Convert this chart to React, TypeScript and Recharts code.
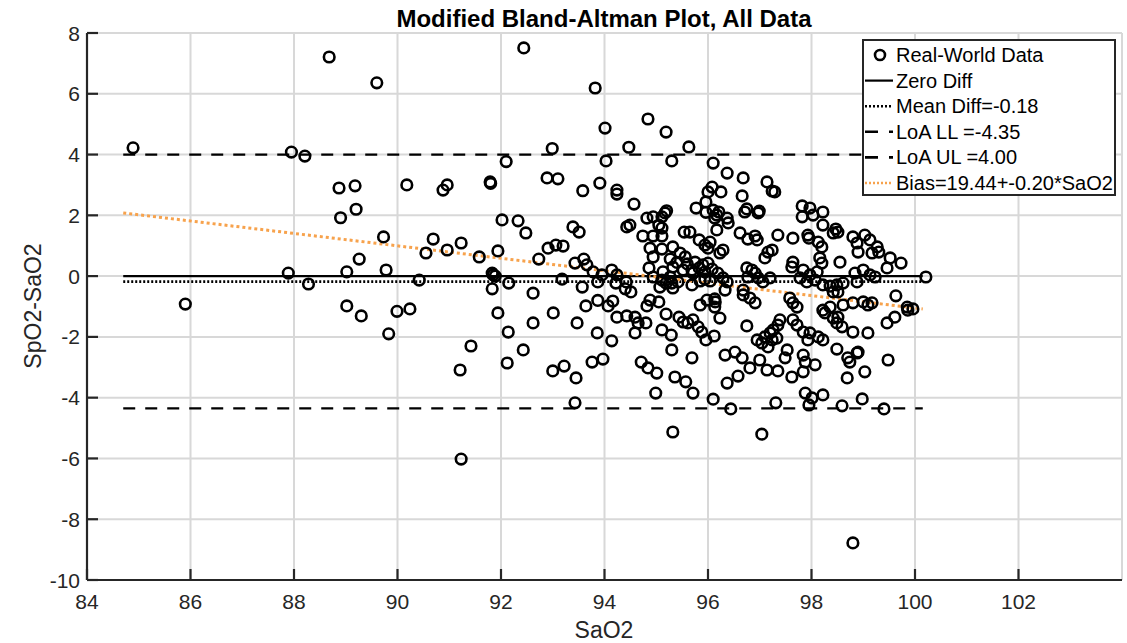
import React from 'react';
import { ScatterChart, Scatter, XAxis, YAxis, CartesianGrid, ReferenceLine } from 'recharts';

// [SaO2, SpO2-SaO2]
const realWorldData: [number, number][] = [
  [84.89, 4.22], [85.9, -0.92], [87.95, 4.08], [88.21, 3.95], [87.89, 0.1], [88.28, -0.26],
  [88.68, 7.21], [89.6, 6.36], [88.87, 2.9], [89.18, 2.97], [89.2, 2.2], [88.9, 1.92],
  [89.02, 0.14], [89.26, 0.56], [89.73, 1.29], [89.78, 0.2], [89.02, -0.98], [89.3, -1.31],
  [89.83, -1.9], [89.99, -1.16], [90.24, -1.08], [90.42, -0.13], [90.18, 3.0], [90.69, 1.22],
  [90.55, 0.76], [90.96, 0.86], [91.23, 1.09], [90.88, 2.83], [90.96, 3.0], [91.58, 0.63],
  [91.94, 0.83], [91.79, 3.1], [91.8, 3.05], [91.83, 0.1], [91.89, 0.0], [91.85, 0.04],
  [91.83, -0.42], [92.15, -0.23], [91.94, -1.21], [92.14, -1.84], [92.62, -0.56], [92.62, -1.54],
  [93.01, -1.21], [91.42, -2.3], [91.21, -3.09], [92.12, -2.86], [92.43, -2.43], [91.23, -6.02],
  [92.02, 1.85], [92.33, 1.82], [92.48, 1.42], [92.1, 3.77], [92.44, 7.51], [92.99, 4.2],
  [92.89, 3.23], [93.1, 3.2], [92.73, 0.56], [92.91, 0.92], [93.06, 1.02], [93.2, 0.99],
  [93.18, -0.1], [93.0, -3.12], [93.22, -2.96], [93.45, -3.35], [93.43, -4.17],
  [93.82, 6.19], [94.01, 4.87], [94.84, 5.17], [95.19, 4.74], [94.47, 4.24], [95.63, 4.25],
  [94.03, 3.79], [95.3, 3.79], [96.1, 3.72], [93.58, 2.81], [93.91, 3.06], [94.24, 2.83],
  [94.24, 2.7], [94.57, 2.37], [93.39, 1.62], [93.51, 1.45], [93.43, 0.43], [93.6, 0.56],
  [93.66, 0.37], [93.57, -0.36], [93.64, -0.98], [93.47, -1.54], [93.86, -1.87], [93.76, -2.83],
  [93.97, -2.73], [94.14, -2.13], [93.87, -0.8], [94.07, -0.98], [94.16, -0.82], [93.78, 0.14],
  [93.95, 0.04], [94.14, 0.2], [94.24, 0.04], [93.87, -0.19], [94.22, -0.23], [94.42, -0.19],
  [94.4, -0.42], [94.51, -0.52], [94.24, -1.35], [94.43, -1.31], [94.59, -1.35], [94.65, -1.54],
  [94.8, -1.54], [94.59, -1.87], [94.71, -2.83], [94.84, -3.02], [95.01, -3.19], [94.99, -3.85],
  [95.32, -5.13], [95.36, -3.32], [95.57, -3.48], [95.71, -3.85], [95.69, -2.69], [95.3, -2.43],
  [95.11, -1.77], [95.29, -1.94], [95.19, -1.25], [95.44, -1.35], [95.52, -1.51], [95.61, -1.54],
  [95.71, -1.44], [95.81, -1.67], [95.88, -1.84], [95.96, -2.1], [96.12, -1.97], [94.82, -0.98],
  [94.88, -0.79], [95.05, -0.85], [95.85, -0.95], [95.98, -0.79], [96.13, -0.75], [96.13, -1.02],
  [95.07, -0.36], [95.19, -0.23], [95.32, -0.39], [95.3, -0.23], [94.94, -0.03], [95.11, -0.13],
  [95.27, -0.03], [95.42, -0.19], [95.69, -0.29], [95.85, -0.16], [95.94, -0.1], [96.04, -0.16],
  [94.86, 0.27], [95.13, 0.14], [95.32, 0.3], [95.52, 0.2], [95.69, 0.2], [95.83, 0.27],
  [96.08, 0.23], [95.27, 0.56], [95.46, 0.76], [95.56, 0.63], [94.94, 0.63], [95.11, 0.89],
  [95.32, 0.96], [94.88, 0.92], [94.74, 1.32], [94.94, 1.32], [95.11, 1.32], [95.54, 1.45],
  [94.43, 1.62], [94.49, 1.68], [94.82, 1.91], [94.94, 1.95], [95.11, 1.95], [95.17, 2.08],
  [95.2, 2.15], [95.11, 1.58], [95.05, 1.68], [95.77, 2.24], [95.96, 2.1], [95.83, 1.19],
  [95.94, 1.02], [96.04, 1.12], [96.0, 0.92], [96.17, 1.52], [96.13, 1.91], [95.96, 2.44],
  [96.0, 2.77], [96.08, 2.93], [96.1, 2.17], [95.4, 0.45], [95.6, 0.4],
  [96.37, 3.39], [96.68, 3.23], [97.14, 3.1], [97.24, 2.8], [97.29, 2.77], [96.25, 2.77],
  [96.66, 2.64], [96.21, 2.11], [96.37, 1.91], [96.75, 2.21], [96.99, 2.14], [97.82, 2.31],
  [97.97, 2.24], [98.22, 2.11], [98.03, 2.01], [97.82, 1.95], [96.17, 2.01], [96.71, 2.11],
  [96.97, 2.08], [98.22, 1.68], [96.39, 1.75], [96.62, 1.42], [96.77, 1.22], [96.91, 1.32],
  [96.95, 1.19], [97.35, 1.35], [97.64, 1.25], [97.93, 1.35], [97.95, 1.25], [98.13, 1.12],
  [98.2, 0.96], [98.42, 1.42], [98.47, 1.55], [98.51, 1.45], [98.8, 1.29], [99.03, 1.35],
  [98.88, 1.09], [99.13, 1.19], [99.27, 0.96], [98.9, 0.79], [99.17, 0.76], [99.3, 0.79],
  [99.52, 0.6], [99.73, 0.43], [100.21, -0.03], [99.63, -0.65], [99.85, -1.02], [99.96, -1.08],
  [99.46, 0.27], [99.13, 0.04], [99.0, 0.2], [98.84, 0.1], [99.23, -0.03], [98.88, -0.19],
  [95.65, 1.45], [96.29, 0.86], [96.23, 0.76], [95.75, 0.46], [95.9, 0.37], [96.0, 0.43],
  [95.94, 0.14], [95.71, 0.1], [96.19, 0.1], [96.29, -0.06], [96.37, -0.19], [96.33, -0.46],
  [96.75, 0.27], [96.85, 0.2], [96.91, 0.1], [96.97, -0.06], [97.06, -0.19], [97.2, -0.06],
  [97.1, 0.6], [97.16, 0.79], [97.24, 0.86], [96.77, -0.03], [96.68, -0.46], [97.64, 0.46],
  [97.62, 0.3], [97.84, 0.2], [97.97, 0.04], [97.78, -0.06], [97.91, -0.19], [98.11, 0.14],
  [98.2, 0.43], [98.16, 0.6], [98.07, -0.13], [98.22, -0.29], [98.36, -0.33], [98.49, -0.29],
  [98.61, -0.23], [98.42, -0.52], [98.51, -0.52], [98.55, 0.46], [96.14, -0.85], [96.68, -0.62],
  [96.81, -0.72], [96.91, -0.88], [97.58, -0.72], [97.64, -0.88], [97.72, -1.02], [98.22, -1.12],
  [98.36, -1.02], [98.61, -0.95], [98.8, -0.88], [99.0, -0.85], [99.09, -0.95], [99.17, -0.88],
  [96.23, -1.38], [96.75, -1.64], [97.39, -1.44], [97.35, -1.61], [97.64, -1.44], [97.72, -1.61],
  [97.84, -1.84], [97.97, -1.87], [98.13, -2.0], [98.22, -2.1], [97.93, -2.1], [97.1, -2.0],
  [96.95, -2.1], [97.04, -2.2], [97.2, -1.87], [97.26, -1.77], [97.24, -2.1], [97.16, -2.33],
  [97.33, -2.04], [98.26, -1.21], [98.42, -1.38], [98.49, -1.54], [98.59, -1.67], [98.51, -1.35],
  [98.8, -1.84], [99.09, -1.87], [99.46, -1.54], [99.61, -1.35], [99.86, -1.12], [98.49, -2.4],
  [98.7, -2.69], [98.74, -2.83], [98.88, -2.53], [98.9, -2.5], [99.48, -2.76], [99.03, -3.15],
  [98.69, -3.35], [96.33, -2.6], [96.52, -2.5], [96.66, -2.69], [97.0, -2.76], [96.81, -3.02],
  [97.14, -3.09], [97.35, -3.12], [97.53, -2.43], [97.49, -2.69], [97.84, -2.6], [97.88, -2.83],
  [98.07, -2.92], [97.84, -3.15], [97.62, -3.32], [96.58, -3.29], [96.37, -3.52], [96.1, -4.05],
  [96.44, -4.37], [97.31, -4.17], [97.88, -3.85], [98.01, -4.01], [98.22, -3.91], [97.95, -4.24],
  [98.59, -4.27], [98.98, -4.04], [99.4, -4.37], [97.04, -5.2], [98.8, -8.78],
];

const xTicks = [84, 86, 88, 90, 92, 94, 96, 98, 100, 102];
const yTicks = [-10, -8, -6, -4, -2, 0, 2, 4, 6, 8];

// reference lines
const zeroDiff = 0;
const meanDiff = -0.18;
const loaLL = -4.35;
const loaUL = 4.0;
const lineFrom = 84.7;
const lineTo = 100.15;
const biasAtFrom = 2.08;
const biasAtTo = -1.08;

const points = realWorldData.map(([saO2, diff]) => ({ saO2, diff }));

const FONT = '"Liberation Sans", Arial, Helvetica, sans-serif';
const INK = '#262626';
const ORANGE = '#f7a24c';
const PLOT_BOTTOM = 580;
const PLOT_LEFT = 87;

const XTick = (props: any) => {
  const { x, payload } = props;
  return (
    <g>
      <line x1={x} y1={PLOT_BOTTOM} x2={x} y2={PLOT_BOTTOM - 11} stroke={INK} strokeWidth={2.2} />
      <text x={x} y={609} textAnchor="middle" fontSize={21} fontFamily={FONT} fill={INK}>
        {payload.value}
      </text>
    </g>
  );
};

const YTick = (props: any) => {
  const { y, payload } = props;
  return (
    <g>
      <line x1={PLOT_LEFT} y1={y} x2={PLOT_LEFT + 11} y2={y} stroke={INK} strokeWidth={2.2} />
      <text x={80} y={y + 7.5} textAnchor="end" fontSize={21} fontFamily={FONT} fill={INK}>
        {payload.value}
      </text>
    </g>
  );
};

const Ring = (props: any) => (
  <circle cx={props.cx} cy={props.cy} r={5.3} fill="none" stroke="#000" strokeWidth={2.6} />
);

const legendRows = [
  { label: 'Real-World Data', kind: 'marker' },
  { label: 'Zero Diff', kind: 'solid' },
  { label: 'Mean Diff=-0.18', kind: 'dotted' },
  { label: 'LoA LL =-4.35', kind: 'dashed' },
  { label: 'LoA UL =4.00', kind: 'dashed' },
  { label: 'Bias=19.44+-0.20*SaO2', kind: 'bias' },
];

const LegendBox = () => (
  <div
    style={{
      position: 'absolute',
      left: 862,
      top: 39,
      width: 250,
      height: 153,
      border: `2px solid ${INK}`,
      background: '#fff',
    }}
  >
    <svg width={250} height={153}>
      {legendRows.map((row, i) => {
        const cy = 14 + i * 25.6;
        let icon;
        if (row.kind === 'marker') {
          icon = <circle cx={16} cy={cy} r={5} fill="none" stroke="#000" strokeWidth={2.6} />;
        } else if (row.kind === 'solid') {
          icon = <line x1={1} x2={29} y1={cy} y2={cy} stroke="#000" strokeWidth={2.2} />;
        } else if (row.kind === 'dotted') {
          icon = <line x1={1} x2={29} y1={cy} y2={cy} stroke="#000" strokeWidth={2.6} strokeDasharray="2 2" />;
        } else if (row.kind === 'dashed') {
          icon = <line x1={1} x2={29} y1={cy} y2={cy} stroke="#000" strokeWidth={2.6} strokeDasharray="13 11" />;
        } else {
          icon = <line x1={1} x2={29} y1={cy} y2={cy} stroke={ORANGE} strokeWidth={2.6} strokeDasharray="2 2" />;
        }
        return (
          <g key={row.label}>
            {icon}
            <text x={32} y={cy + 7} fontSize={20} fontFamily={FONT} fill="#000">
              {row.label}
            </text>
          </g>
        );
      })}
    </svg>
  </div>
);

export default function App() {
  return (
    <div style={{ position: 'relative', width: 1127, height: 643, background: '#fff' }}>
      <style>{'body{margin:0}'}</style>
      <ScatterChart width={1127} height={643} margin={{ top: 33, right: 5, left: 0, bottom: 0 }}>
        <CartesianGrid stroke="#d8d8d8" strokeWidth={2} />
        <XAxis
          type="number"
          dataKey="saO2"
          domain={[84, 104]}
          ticks={xTicks}
          interval={0}
          allowDataOverflow
          height={63}
          tickLine={false}
          axisLine={{ stroke: INK, strokeWidth: 2.2 }}
          tick={XTick}
        />
        <YAxis
          type="number"
          dataKey="diff"
          domain={[-10, 8]}
          ticks={yTicks}
          interval={0}
          allowDataOverflow
          width={87}
          tickLine={false}
          axisLine={{ stroke: INK, strokeWidth: 2.2 }}
          tick={YTick}
        />
        <Scatter data={points} shape={Ring} isAnimationActive={false} />
        <ReferenceLine
          segment={[{ x: lineFrom, y: zeroDiff }, { x: lineTo, y: zeroDiff }]}
          stroke="#000"
          strokeWidth={2.2}
        />
        <ReferenceLine
          segment={[{ x: lineFrom, y: meanDiff }, { x: lineTo, y: meanDiff }]}
          stroke="#000"
          strokeWidth={2.6}
          strokeDasharray="2 2"
        />
        <ReferenceLine
          segment={[{ x: lineFrom, y: loaLL }, { x: lineTo, y: loaLL }]}
          stroke="#000"
          strokeWidth={2.2}
          strokeDasharray="12 10"
        />
        <ReferenceLine
          segment={[{ x: lineFrom, y: loaUL }, { x: lineTo, y: loaUL }]}
          stroke="#000"
          strokeWidth={2.2}
          strokeDasharray="12 10"
        />
        <ReferenceLine
          segment={[{ x: lineFrom, y: biasAtFrom }, { x: lineTo, y: biasAtTo }]}
          stroke={ORANGE}
          strokeWidth={3}
          strokeDasharray="3 3"
        />
        <text x={604} y={27} textAnchor="middle" fontSize={24} fontWeight="bold" fontFamily={FONT} fill="#000">
          Modified Bland-Altman Plot, All Data
        </text>
        <text x={604} y={638} textAnchor="middle" fontSize={23} fontFamily={FONT} fill={INK}>
          SaO2
        </text>
        <text
          x={33}
          y={306}
          transform="rotate(-90 33 306)"
          textAnchor="middle"
          dominantBaseline="central"
          fontSize={23}
          fontFamily={FONT}
          fill={INK}
        >
          SpO2-SaO2
        </text>
      </ScatterChart>
      <LegendBox />
    </div>
  );
}
